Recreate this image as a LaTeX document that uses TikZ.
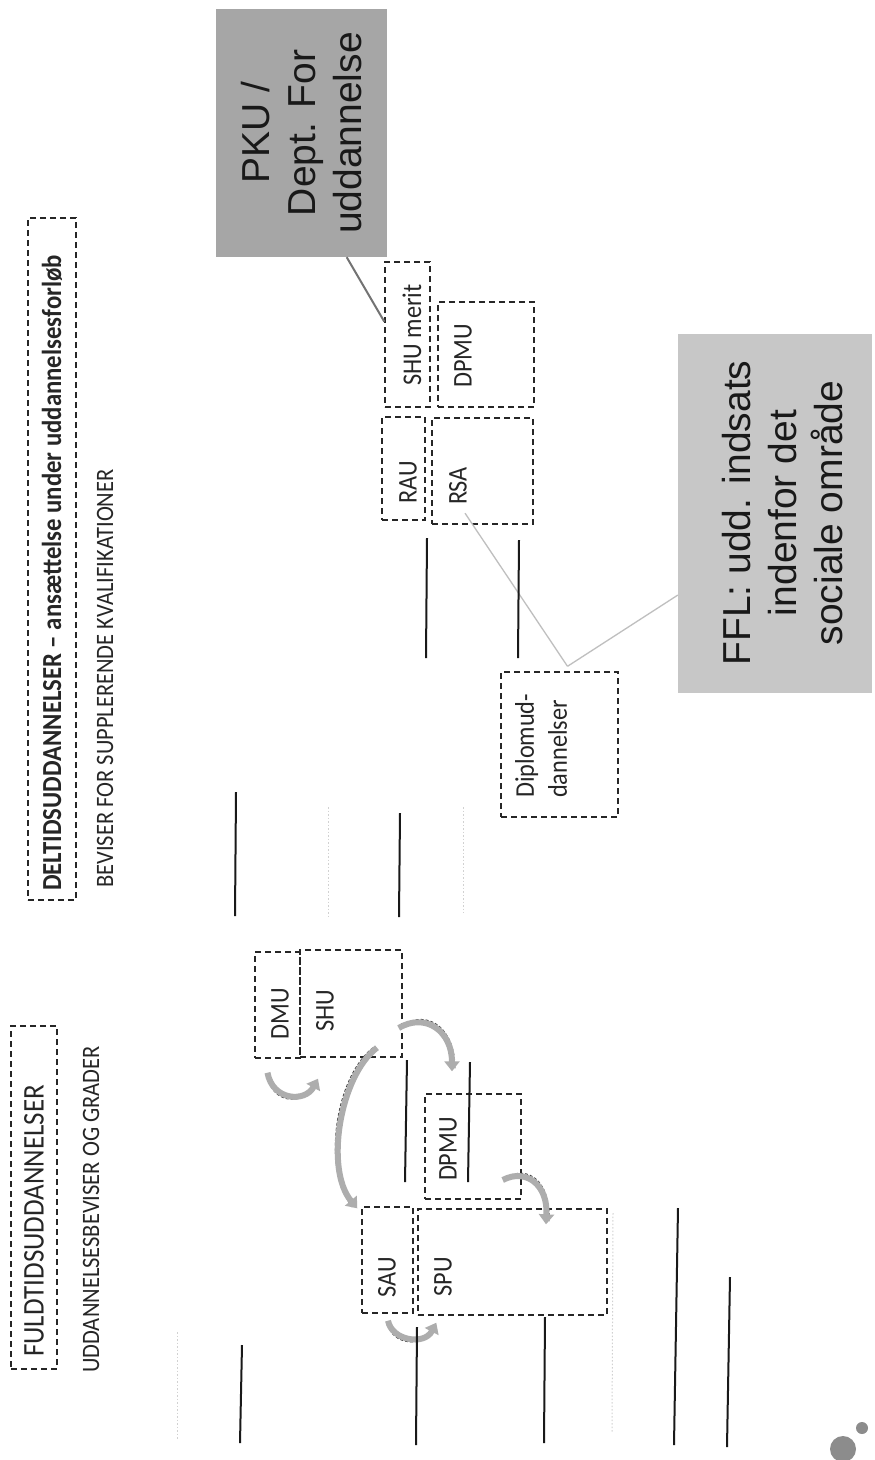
\documentclass[tikz,border=0pt]{standalone}
\usepackage{fontspec}
\usepackage{tikz}
\usetikzlibrary{arrows.meta,calc}
\newfontfamily\boxfont[FakeStretch=0.9]{Carlito}
\newfontfamily\callfont{Liberation Sans}

\tikzset{
  dbox/.style={draw=black!85, line width=1.4pt, dash pattern=on 6pt off 4pt, inner sep=0pt},
  boxlabel/.style={rotate=90, inner sep=0pt, text=black!85, font=\boxfont\fontsize{27}{31}\selectfont},
  calltext/.style={rotate=90, inner sep=0pt, align=center, text=black!90, font=\callfont\fontsize{39}{46}\selectfont},
  blackrule/.style={black!90, line width=2pt},
  faintrule/.style={black!18, line width=1pt, dash pattern=on 1.5pt off 2pt},
  calllink/.style={line width=1.3pt},
  bandarrow/.style={black!32, line width=6pt, -{Triangle[width=15pt,length=10pt]}},
  bandedge/.style={black!75, line width=0.9pt, dash pattern=on 3pt off 2pt},
}

\begin{document}
\begin{tikzpicture}[x=1pt,y=1pt,yscale=-1]
\useasboundingbox[fill=white] (0,0) rectangle (875,1460);

% Shape: Rectangle
\node (pku) [fill=black!35, minimum width=171pt, minimum height=248pt] at (301.5,133) {};
% Shape: Rectangle
\node (ffl) [fill=black!22, minimum width=194pt, minimum height=359pt] at (775,513.5) {};
% Text Node
\node (pku text) [calltext] at (pku) {PKU /\\Dept. For\\uddannelse};
% Text Node
\node (ffl text) [calltext] at (783,513) {FFL: udd. indsats\\indenfor det\\sociale område};

% Shape: Rectangle
\node (fuld) [dbox, minimum width=46pt, minimum height=343pt] at (34,1197.5) {};
% Shape: Rectangle
\node (delt) [dbox, minimum width=48pt, minimum height=682pt] at (52,559) {};
% Shape: Rectangle
\node (dmu) [dbox, minimum width=45pt, minimum height=106pt] at (277.5,1005) {};
% Shape: Rectangle
\node (shu) [dbox, minimum width=102pt, minimum height=107pt] at (351,1003.5) {};
% Shape: Rectangle
\node (dpmu) [dbox, minimum width=96pt, minimum height=105pt] at (473,1146.5) {};
% Shape: Rectangle
\node (sau) [dbox, minimum width=51pt, minimum height=106pt] at (387.5,1260) {};
% Shape: Rectangle
\node (spu) [dbox, minimum width=189pt, minimum height=106pt] at (512.5,1262) {};
% Shape: Rectangle
\node (shumerit) [dbox, minimum width=45pt, minimum height=145pt] at (407.5,334.5) {};
% Shape: Rectangle
\node (dpmutop) [dbox, minimum width=96pt, minimum height=105pt] at (486,354.5) {};
% Shape: Rectangle
\node (rau) [dbox, minimum width=43pt, minimum height=103pt] at (403.5,468.5) {};
% Shape: Rectangle
\node (rsa) [dbox, minimum width=101pt, minimum height=106pt] at (482.5,471) {};
% Shape: Rectangle
\node (dipl) [dbox, minimum width=117pt, minimum height=145pt] at (559.5,744.5) {};

% Text Node
\node (fuld label) [boxlabel, anchor=west, font=\boxfont\fontsize{30}{34}\selectfont] at (34,1357) {FULDTIDSUDDANNELSER};
% Text Node
\node (delt label) [boxlabel, anchor=west, font=\boxfont\bfseries\fontsize{27.5}{32}\selectfont] at (52,891) {DELTIDSUDDANNELSER – ansættelse under uddannelsesforløb};
% Text Node
\node (bev label) [boxlabel, anchor=west, font=\boxfont\fontsize{25}{29}\selectfont] at (105,888) {BEVISER FOR SUPPLERENDE KVALIFIKATIONER};
% Text Node
\node (udd label) [boxlabel, anchor=west, font=\boxfont\fontsize{25}{29}\selectfont] at (91,1373) {UDDANNELSESBEVISER OG GRADER};
% Text Node
\node (dmu label) [boxlabel] at (280,1014) {DMU};
% Text Node
\node (shu label) [boxlabel] at (325,1011) {SHU};
% Text Node
\node (dpmu label) [boxlabel] at (448,1149) {DPMU};
% Text Node
\node (sau label) [boxlabel] at (387,1277) {SAU};
% Text Node
\node (spu label) [boxlabel] at (443,1277) {SPU};
% Text Node
\node (shumerit label) [boxlabel] at (412,335) {SHU merit};
% Text Node
\node (dpmutop label) [boxlabel] at (463,356) {DPMU};
% Text Node
\node (rau label) [boxlabel] at (408,482) {RAU};
% Text Node
\node (rsa label) [boxlabel] at (458,486) {RSA};
% Text Node
\node (dipl label) [boxlabel, anchor=west, align=left, font=\boxfont\fontsize{27}{33}\selectfont] at (541,798) {Diplomud-\\dannelser};

% Connection
\draw [calllink, black!55, line width=2pt] (pku.-70) -- (shumerit.151);
% Connection
\coordinate (dipl top) at ($(dipl.north)+(8,-5)$);
\draw [calllink, black!25] ($(rsa label.west)+(7,8)$) -- (dipl top);
% Connection
\draw [calllink, black!25] (ffl.220) -- (dipl top);

% Curve Arrow
\draw [bandedge, transform canvas={yshift=-4pt}] ($(dmu.south)+(-10,14)$) .. controls +(5,28) and +(-13,24) .. ($(shu.south)+(-33,21)$);
\draw [bandarrow] ($(dmu.south)+(-10,14)$) .. controls +(5,28) and +(-13,24) .. ($(shu.south)+(-33,21)$);
% Curve Arrow
\draw [bandedge, transform canvas={xshift=-4pt}] ($(shu.south)+(26,-10)$) .. controls +(-37,28) and +(-33,-39) .. ($(sau.north west)+(-4,2)$);
\draw [bandarrow] ($(shu.south)+(26,-10)$) .. controls +(-37,28) and +(-33,-39) .. ($(sau.north west)+(-4,2)$);
% Curve Arrow
\draw [bandedge, transform canvas={xshift=3pt,yshift=3pt}] ($(shu.east)+(-4,24.5)$) .. controls +(27,-16) and +(0,-40) .. ($(dpmu.north)+(-21,-22)$);
\draw [bandarrow] ($(shu.east)+(-4,24.5)$) .. controls +(27,-16) and +(0,-40) .. ($(dpmu.north)+(-21,-22)$);
% Curve Arrow
\draw [bandedge, transform canvas={xshift=3pt,yshift=3pt}] ($(dpmu.east)+(-19,33.5)$) .. controls +(23,-12) and +(2,-40) .. ($(spu.north)+(33.5,16)$);
\draw [bandarrow] ($(dpmu.east)+(-19,33.5)$) .. controls +(23,-12) and +(2,-40) .. ($(spu.north)+(33.5,16)$);
% Curve Arrow
\draw [bandedge, transform canvas={yshift=-4pt}] ($(sau.south)+(0.5,7)$) .. controls +(4,20) and +(-12,23) .. ($(spu.south west)+(19,7)$);
\draw [bandarrow] ($(sau.south)+(0.5,7)$) .. controls +(4,20) and +(-12,23) .. ($(spu.south west)+(19,7)$);

% Lines
\draw [blackrule] (427,538) -- (426,658);
\draw [blackrule] (519,540) -- (518,658);
\draw [blackrule] (236,792) -- (235,916);
\draw [blackrule] (400,813) -- (399,917);
\draw [blackrule] (407,1060) -- (405,1182);
\draw [blackrule] (470,1062) -- (468,1182);
\draw [blackrule] (242,1345) -- (240,1443);
\draw [blackrule] (417,1327) -- (416,1445);
\draw [blackrule] (545,1317) -- (544,1443);
\draw [blackrule] (678,1208) -- (674,1445);
\draw [blackrule] (730,1277) -- (727,1447);
\draw [faintrule] (328,807) -- (328,917);
\draw [faintrule] (463,807) -- (463,913);
\draw [faintrule] (177,1332) -- (177,1440);
\draw [faintrule] (613,1213) -- (612,1433);

% Shape: Circle
\fill [black!45] (843,1449) circle (13);
\fill [black!45] (862,1428) circle (6);

\end{tikzpicture}
\end{document}
